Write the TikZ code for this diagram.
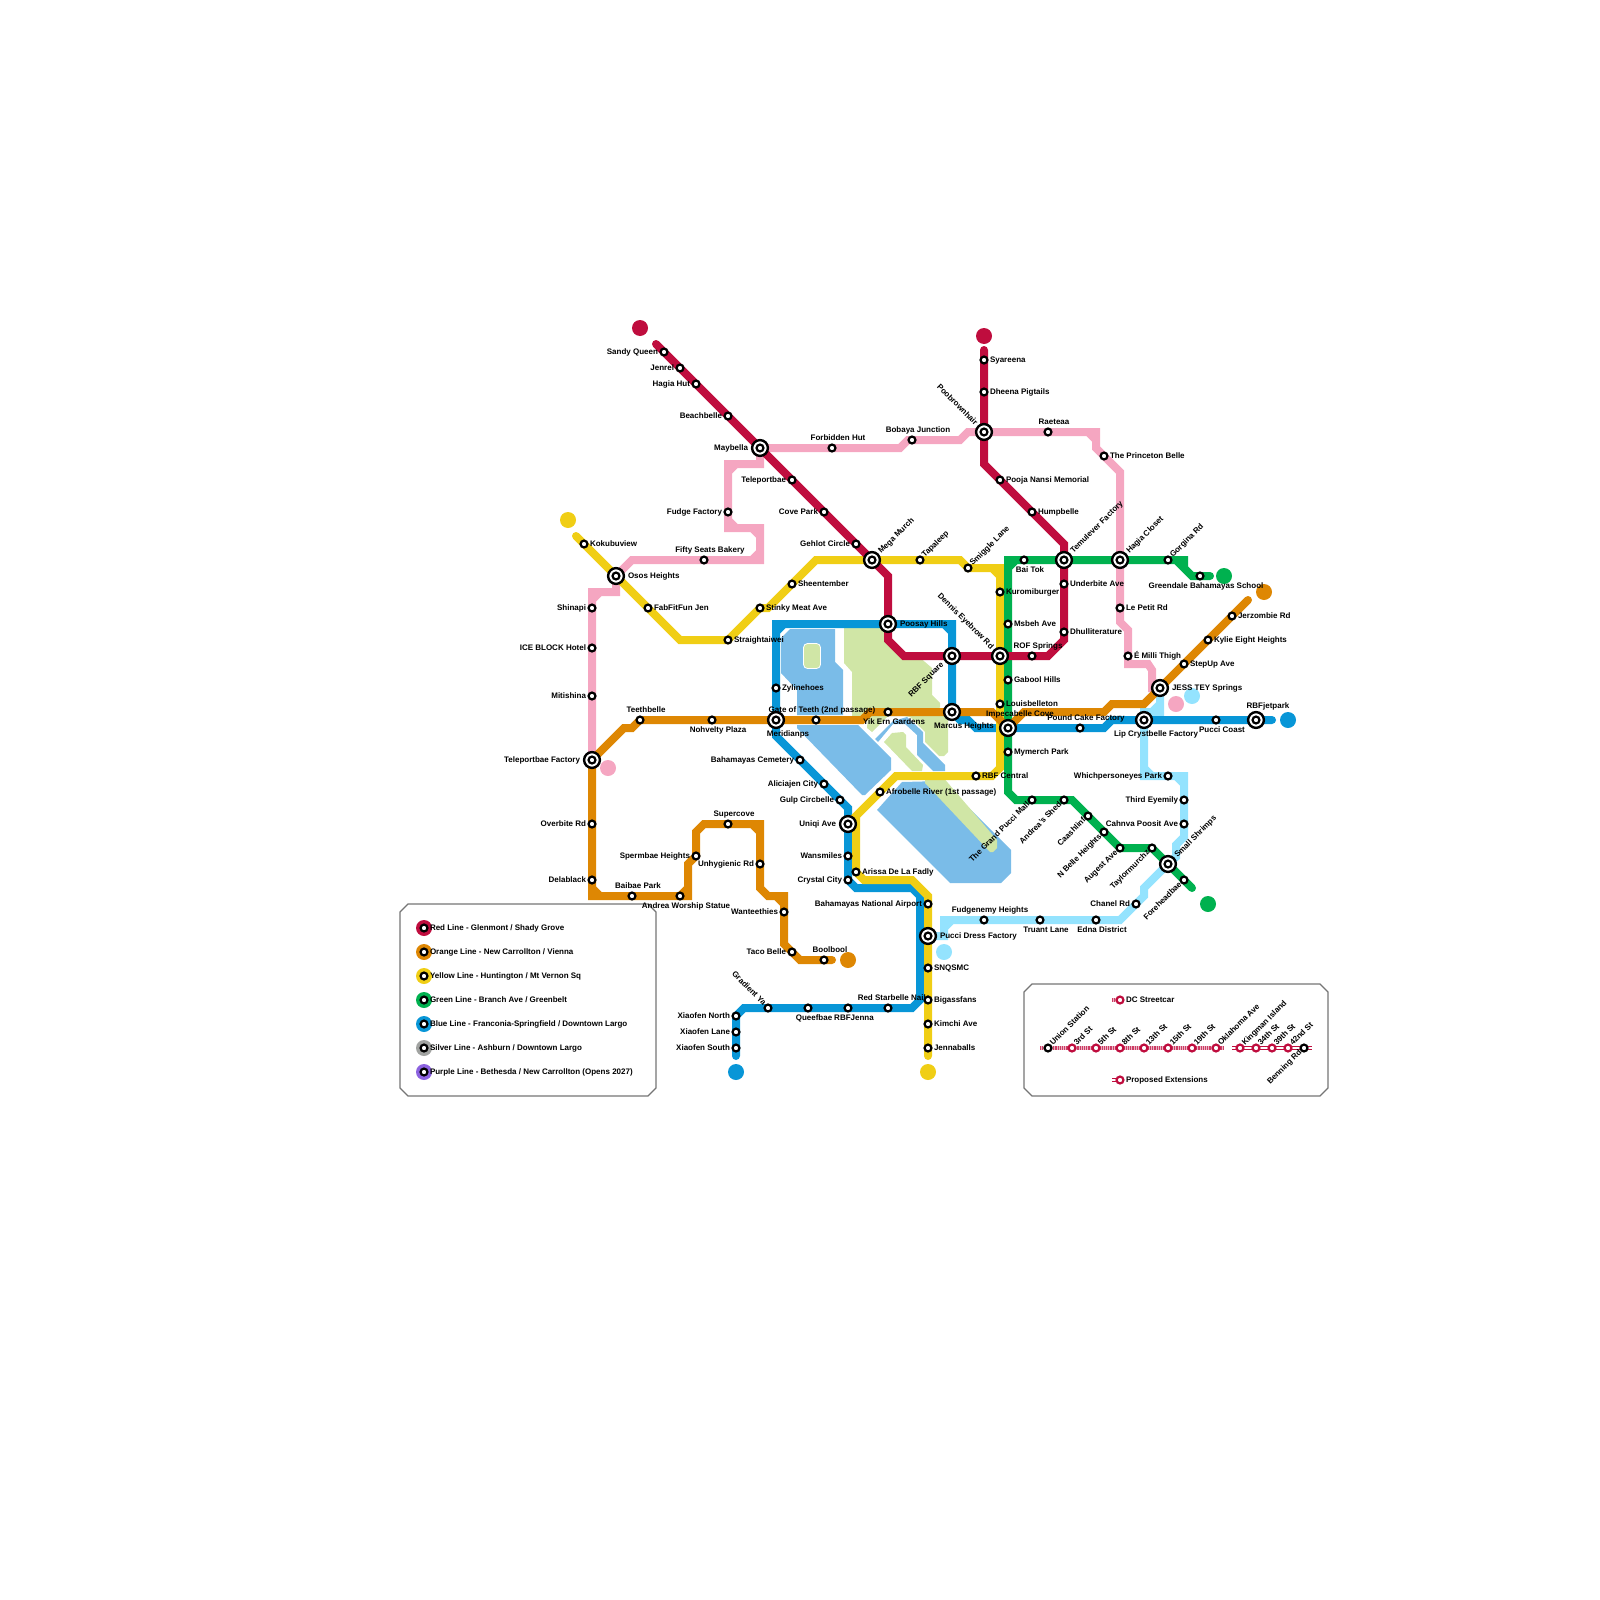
\documentclass[tikz,border=0pt]{standalone}
\usepackage{fontspec}
\setmainfont{Liberation Sans}
\pgfdeclarelayer{bg}\pgfdeclarelayer{lbl}
\pgfsetlayers{bg,lbl,main}
\definecolor{cred}{HTML}{BF0D3E}
\definecolor{corange}{HTML}{DE8703}
\definecolor{cyellow}{HTML}{F0CE15}
\definecolor{cgreen}{HTML}{00B14F}
\definecolor{cblue}{HTML}{0896D7}
\definecolor{csilver}{HTML}{A1A3A1}
\definecolor{cpurple}{HTML}{8C62E0}
\definecolor{cpink}{HTML}{F5A6C1}
\definecolor{clight}{HTML}{94E3FE}
\definecolor{cwater}{HTML}{7ABCE8}
\definecolor{cpark}{HTML}{D0E6A6}
\definecolor{cbox}{HTML}{757575}
\tikzset{
 line/.style={line width=8pt,line cap=round,line join=miter},
 stn/.style={circle,draw=black,fill=white,line width=2.2pt,minimum size=6.9pt,inner sep=0pt,outer sep=0pt},
 xstn/.style={circle,draw=black,fill=white,line width=2.4pt,minimum size=15.8pt,inner sep=0pt,outer sep=0pt},
 sc/.style={circle,draw=cred,fill=white,line width=2.2pt,minimum size=6.9pt,inner sep=0pt,outer sep=0pt},
 dot/.style={circle,inner sep=0pt,outer sep=0pt,minimum size=16pt},
 lbl/.style={font=\bfseries\fontsize{8}{9}\selectfont,inner sep=0pt,outer sep=0pt,text height=5.8pt,text depth=1.6pt,text=black},
 lR/.style={xshift=6pt,anchor=west},
 lL/.style={xshift=-6pt,anchor=east},
 lT/.style={xshift=6pt,yshift=9.85pt},
 lB/.style={xshift=6pt,yshift=-10.15pt},
 lU/.style={xshift=3.5pt,yshift=3.5pt,rotate=45,anchor=west},
 lV/.style={xshift=-3.5pt,yshift=-3.5pt,rotate=45,anchor=east},
 lD/.style={xshift=-3.5pt,yshift=3.5pt,rotate=-45,anchor=east},
 xR/.style={xshift=12pt,anchor=west},
 xL/.style={xshift=-12pt,anchor=east},
 xT/.style={xshift=12pt,yshift=14pt},
 xB/.style={xshift=12pt,yshift=-14pt},
 xU/.style={xshift=8pt,yshift=7.5pt,rotate=45,anchor=west},
 xV/.style={xshift=-9.5pt,yshift=-7.5pt,rotate=45,anchor=east},
 xD/.style={xshift=-8pt,yshift=8pt,rotate=-45,anchor=east},
 boxs/.style={draw=cbox,line width=1.3pt,fill=white},
 water/.style={fill=cwater,draw=none},
 park/.style={fill=cpark,draw=none},
}
\newcommand\st[5]{\node[stn] (#1) at (#2,#3) {};\begin{pgfonlayer}{lbl}\node[lbl,#4] (#1t) at (#2,#3) {#5};\end{pgfonlayer}}
\newcommand\xst[5]{\node[xstn] (#1) at (#2,#3) {};\node[stn] (#1i) at (#2,#3) {};\begin{pgfonlayer}{lbl}\node[lbl,#4] (#1t) at (#2,#3) {#5};\end{pgfonlayer}}
\newcommand\sct[5]{\node[sc] (#1) at (#2,#3) {};\begin{pgfonlayer}{lbl}\node[lbl,#4] (#1t) at (#2,#3) {#5};\end{pgfonlayer}}
\newcommand\leg[4]{\node[dot,fill=#2] (#1d) at (424,#3) {};\node[stn] (#1) at (424,#3) {};\node[lbl,lR] (#1t) at (424,#3) {#4};}
\begin{document}
\begin{tikzpicture}[x=1pt,y=-1pt]
\useasboundingbox (0,0) rectangle (1600,1600);
% red stations
\st{sandy}{664}{352}{lL}{Sandy Queen}
\st{jenrel}{680}{368}{lL}{Jenrel}
\st{hagiahut}{696}{384}{lL}{Hagia Hut}
\st{beach}{728}{416}{lL}{Beachbelle}
\xst{maybella}{760}{448}{xL}{Maybella}
\st{telep}{792}{480}{lL}{Teleportbae}
\st{cove}{824}{512}{lL}{Cove Park}
\st{gehlot}{856}{544}{lL}{Gehlot Circle}
\xst{mega}{872}{560}{xU}{Mega Murch}
\xst{poosay}{888}{624}{xR}{Poosay Hills}
\xst{rbfsq}{952}{656}{xV}{RBF Square}
\xst{dennis}{1000}{656}{xD}{Dennis Eyebrow Rd}
\st{rof}{1032}{656}{lT}{ROF Springs}
\st{dhull}{1064}{632}{lR}{Dhulliterature}
\st{under}{1064}{584}{lR}{Underbite Ave}
\xst{temu}{1064}{560}{xU}{Temulever Factory}
\st{hump}{1032}{512}{lR}{Humpbelle}
\st{pooja}{1000}{480}{lR}{Pooja Nansi Memorial}
\xst{poob}{984}{432}{xD}{Poobrownhair}
\st{dheena}{984}{392}{lR}{Dheena Pigtails}
\st{syar}{984}{360}{lR}{Syareena}
% orange
\st{jerz}{1232}{616}{lR}{Jerzombie Rd}
\st{kylie}{1208}{640}{lR}{Kylie Eight Heights}
\st{stepup}{1184}{664}{lR}{StepUp Ave}
\xst{jess}{1160}{688}{xR}{JESS TEY Springs}
\xst{impec}{1008}{728}{xT}{Impecabelle Cove}
\xst{marcus}{952}{712}{xB}{Marcus Heights}
\st{yik}{888}{712}{lB}{Yik Ern Gardens}
\st{gate}{816}{720}{lT}{Gate of Teeth (2nd passage)}
\xst{merid}{776}{720}{xB}{Meridianps}
\st{nohv}{712}{720}{lB}{Nohvelty Plaza}
\st{teeth}{640}{720}{lT}{Teethbelle}
\xst{telfac}{592}{760}{xL}{Teleportbae Factory}
\st{over}{592}{824}{lL}{Overbite Rd}
\st{dela}{592}{880}{lL}{Delablack}
\st{baib}{632}{896}{lT}{Baibae Park}
\st{andrea}{680}{896}{lB}{Andrea Worship Statue}
\st{sperm}{696}{856}{lL}{Spermbae Heights}
\st{super}{728}{824}{lT}{Supercove}
\st{unhyg}{760}{864}{lL}{Unhygienic Rd}
\st{want}{784}{912}{lL}{Wanteethies}
\st{taco}{792}{952}{lL}{Taco Belle}
\st{bool}{824}{960}{lT}{Boolbool}
% yellow
\st{koku}{584}{544}{lR}{Kokubuview}
\xst{osos}{616}{576}{xR}{Osos Heights}
\st{fab}{648}{608}{lR}{FabFitFun Jen}
\st{strai}{728}{640}{lR}{Straightaiwei}
\st{stinky}{760}{608}{lR}{Stinky Meat Ave}
\st{sheen}{792}{584}{lR}{Sheentember}
\st{tapa}{920}{560}{lU}{Tapaleep}
\st{smig}{968}{568}{lU}{Smiggle Lane}
\st{kuro}{1000}{592}{lR}{Kuromiburger}
\st{louis}{1000}{704}{lR}{Louisbelleton}
\st{rbfc}{976}{776}{lR}{RBF Central}
\st{afro}{880}{792}{lR}{Afrobelle River (1st passage)}
\xst{uniqi}{848}{824}{xL}{Uniqi Ave}
\st{ariss}{856}{872}{lR}{Arissa De La Fadly}
\st{baha}{928}{904}{lL}{Bahamayas National Airport}
\xst{pucci}{928}{936}{xR}{Pucci Dress Factory}
\st{snq}{928}{968}{lR}{SNQSMC}
\st{biga}{928}{1000}{lR}{Bigassfans}
\st{kimchi}{928}{1024}{lR}{Kimchi Ave}
\st{jenna}{928}{1048}{lR}{Jennaballs}
% green
\st{bai}{1024}{560}{lB}{Bai Tok}
\xst{hagiac}{1120}{560}{xU}{Hagia Closet}
\st{gorg}{1168}{560}{lU}{Gorgina Rd}
\st{green}{1200}{576}{lB}{Greendale Bahamayas School}
\st{msbeh}{1008}{624}{lR}{Msbeh Ave}
\st{gabool}{1008}{680}{lR}{Gabool Hills}
\st{mymer}{1008}{752}{lR}{Mymerch Park}
\st{gmall}{1032}{800}{lV}{The Grand Pucci Mall}
\st{ashed}{1064}{800}{lV}{Andrea's Shed}
\st{caash}{1088}{816}{lV}{Caashlinf}
\st{nbelle}{1104}{832}{lV}{N Belle Heights}
\st{auge}{1120}{848}{lV}{Augest Ave}
\st{tayl}{1152}{848}{lV}{Taylormurchz}
\xst{shrimp}{1168}{864}{xU}{Small Shrimps}
\st{fore}{1184}{880}{lV}{Foreheadbae}
% blue
\st{jet0}{1216}{720}{lB}{Pucci Coast}
\xst{jet}{1256}{720}{xT}{RBFjetpark}
\xst{lip}{1144}{720}{xB}{Lip Crystbelle Factory}
\st{pound}{1080}{728}{lT}{Pound Cake Factory}
\st{zyl}{776}{688}{lR}{Zylinehoes}
\st{bcem}{800}{760}{lL}{Bahamayas Cemetery}
\st{alic}{824}{784}{lL}{Aliciajen City}
\st{gulp}{840}{800}{lL}{Gulp Circbelle}
\st{wans}{848}{856}{lL}{Wansmiles}
\st{crys}{848}{880}{lL}{Crystal City}
\st{rsb}{888}{1008}{lT}{Red Starbelle Nails}
\st{rbfj}{848}{1008}{lB}{RBFJenna}
\st{queef}{808}{1008}{lB}{Queefbae}
\st{grad}{768}{1008}{lD}{Gradient Ya}
\st{xn}{736}{1016}{lL}{Xiaofen North}
\st{xl}{736}{1032}{lL}{Xiaofen Lane}
\st{xs}{736}{1048}{lL}{Xiaofen South}
% pink
\st{mitis}{592}{696}{lL}{Mitishina}
\st{ice}{592}{648}{lL}{ICE BLOCK Hotel}
\st{shin}{592}{608}{lL}{Shinapi}
\st{fifty}{704}{560}{lT}{Fifty Seats Bakery}
\st{fudge}{728}{512}{lL}{Fudge Factory}
\st{forb}{832}{448}{lT}{Forbidden Hut}
\st{boba}{912}{440}{lT}{Bobaya Junction}
\st{raet}{1048}{432}{lT}{Raeteaa}
\st{princ}{1104}{456}{lR}{The Princeton Belle}
\st{petit}{1120}{608}{lR}{Le Petit Rd}
\st{milli}{1128}{656}{lR}{É Milli Thigh}
% light blue
\st{which}{1168}{776}{lL}{Whichpersoneyes Park}
\st{third}{1184}{800}{lL}{Third Eyemily}
\st{cahn}{1184}{824}{lL}{Cahnva Poosit Ave}
\st{chan}{1136}{904}{lL}{Chanel Rd}
\st{edna}{1096}{920}{lB}{Edna District}
\st{truant}{1040}{920}{lB}{Truant Lane}
\st{fudg}{984}{920}{lT}{Fudgenemy Heights}
% end dots
\begin{pgfonlayer}{bg}
\draw[boxs] (408,904)--(648,904)--(656,912)--(656,1088)--(648,1096)--(408,1096)--(400,1088)--(400,912)--cycle;
\draw[boxs] (1032,984)--(1320,984)--(1328,992)--(1328,1088)--(1320,1096)--(1032,1096)--(1024,1088)--(1024,992)--cycle;
\node[dot,fill=cred] (dr1) at (640,328) {};
\node[dot,fill=cred] (dr2) at (984,336) {};
\node[dot,fill=corange] (do1) at (1264,592) {};
\node[dot,fill=corange] (do2) at (848,960) {};
\node[dot,fill=cyellow] (dy1) at (568,520) {};
\node[dot,fill=cyellow] (dy2) at (928,1072) {};
\node[dot,fill=cgreen] (dg1) at (1224,576) {};
\node[dot,fill=cgreen] (dg2) at (1208,904) {};
\node[dot,fill=cblue] (db1) at (1288,720) {};
\node[dot,fill=cblue] (db2) at (736,1072) {};
\node[dot,fill=cpink] (dp1) at (608,768) {};
\node[dot,fill=cpink] (dp2) at (1176,704) {};
\node[dot,fill=clight] (dl1) at (1192,696) {};
\node[dot,fill=clight] (dl2) at (944,952) {};
% water and parks
\fill[water] (790,629)--(835,629)--(835,662)--(843,670)--(843,715)--(797,715)--(797,690)--(781,673)--(781,638)--cycle;
\fill[park,draw=white,line width=.8pt,rounded corners=4pt] (803.5,643.5) rectangle (820.5,668.5);
\fill[water] (797,725)--(858,725)--(891,758)--(891,770)--(865,795)--(862,795)--(797,728)--cycle;
\fill[water] (877,810)--(902,782)--(942,781)--(1011,850)--(1011,873)--(1001,883)--(950,883)--cycle;
\fill[water] (875,739)--(893,721)--(907,717)--(923,732)--(923,743)--(945,765)--(945,771)--(933,771)--(917,755)--(917,735)--(905,724)--(893,724)--(878,742)--cycle;
\fill[park] (844,628)--(884,628)--(904,656)--(918,656)--(932,668)--(932,695)--(940,703)--(940,707)--(934,716)--(852,716)--(852,672)--(844,663)--cycle;
\fill[park] (867,728)--(872,732)--(888,716)--(868,716)--cycle;
\fill[park] (905,716)--(948,716)--(948,752)--(944,756)--(939,756)--(925,742)--(925,732)--(910,717)--cycle;
\fill[park] (884,742)--(892,733)--(903,732)--(906,735)--(906,747)--(923,765)--(922,771)--(912,771)--cycle;
\fill[park] (925,776)--(942,776)--(997,840)--(997,848)--(993,852)--(990,852)--(925,783)--cycle;
% lines
\draw[line,clight] (jess.center)--(1160,712)--(1144,712)--(lip.center)--(1144,776)--(which.center)--(1184,776)--(third.center)--(cahn.center)--(1184,837)--(1176,845)--(1176,857)--(shrimp.center)--(1144,888)--(1144,896)--(chan.center)--(1120,920)--(edna.center)--(truant.center)--(fudg.center)--(944,920)--(944,936)--(pucci.center) (1152,712)--(1160,704) (1176,776)--(1184,784) (1144,768)--(1152,776) (944,928)--(952,920);
\draw[line,cpink] (telfac.center)--(mitis.center)--(ice.center)--(shin.center)--(592,592)--(616,592)--(osos.center)--(632,560)--(fifty.center)--(760,560)--(760,528)--(728,528)--(fudge.center)--(728,464)--(760,464)--(maybella.center)--(forb.center)--(900,448)--(908,440)--(boba.center)--(960,440)--(968,432)--(poob.center)--(raet.center)--(1096,432)--(1096,448)--(princ.center)--(1120,472)--(hagiac.center)--(petit.center)--(1120,622)--(1128,630)--(milli.center)--(1128,664)--(1148,664)--(1152,670)--(1152,688)--(jess.center) (592,600)--(600,592) (752,560)--(760,552) (752,528)--(760,536) (728,520)--(736,528) (728,472)--(736,464) (1088,432)--(1096,440);
\draw[line,cblue] (1272,720)--(jet.center)--(jet0.center)--(lip.center)--(1112,720)--(1104,728)--(pound.center)--(impec.center)--(976,728)--(968,720)--(960,720)--(marcus.center)--(rbfsq.center)--(952,624)--(poosay.center)--(776,624)--(zyl.center)--(merid.center)--(776,736)--(bcem.center)--(alic.center)--(gulp.center)--(848,808)--(uniqi.center)--(wans.center)--(crys.center)--(856,888)--(912,888)--(920,896)--(920,1000)--(912,1008)--(rsb.center)--(rbfj.center)--(queef.center)--(grad.center)--(744,1008)--(xn.center)--(xl.center)--(xs.center)--(736,1056) (776,632)--(784,624) (944,624)--(952,632);
\draw[line,cyellow] (576,536)--(koku.center)--(osos.center)--(fab.center)--(680,640)--(strai.center)--(stinky.center)--(768,608)--(sheen.center)--(816,560)--(mega.center)--(tapa.center)--(960,560)--(smig.center)--(1000,568)--(kuro.center)--(dennis.center)--(louis.center)--(1000,768)--(992,776)--(rbfc.center)--(896,776)--(afro.center)--(uniqi.center) (uniqi.center)--(856,816)--(ariss.center)--(856,872)--(864,880)--(912,880)--(928,896)--(baha.center)--(pucci.center)--(snq.center)--(biga.center)--(kimchi.center)--(jenna.center)--(928,1056) (992,568)--(1000,576);
\draw[line,cgreen] (impec.center)--(gabool.center)--(msbeh.center)--(1008,560)--(bai.center)--(temu.center)--(hagiac.center)--(gorg.center)--(1184,560)--(1184,568)--(1192,576)--(green.center)--(1210,576) (1176,560)--(1184,568) (1008,568)--(1016,560);
\draw[line,cgreen] (impec.center)--(mymer.center)--(1008,792)--(1016,800)--(gmall.center)--(ashed.center)--(1072,800)--(caash.center)--(nbelle.center)--(auge.center)--(tayl.center)--(shrimp.center)--(fore.center)--(1192,888);
\draw[line,corange] (1248,600)--(jerz.center)--(kylie.center)--(stepup.center)--(jess.center)--(1144,704)--(1112,704)--(1104,712)--(1024,712)--(impec.center)--(992,712)--(marcus.center)--(yik.center)--(870,712)--(862,720)--(gate.center)--(merid.center)--(nohv.center)--(teeth.center)--(632,728)--(624,728)--(telfac.center)--(over.center)--(dela.center)--(592,896)--(baib.center)--(andrea.center)--(688,896)--(688,864)--(sperm.center)--(696,832)--(704,824)--(super.center)--(760,824)--(unhyg.center)--(760,888)--(768,896)--(784,896)--(want.center)--(784,944)--(800,960)--(bool.center)--(832,960) (592,888)--(600,896) (680,896)--(688,888) (752,824)--(760,832) (776,896)--(784,904);
\draw[line,cred] (656,344)--(sandy.center)--(jenrel.center)--(hagiahut.center)--(beach.center)--(maybella.center)--(telep.center)--(cove.center)--(gehlot.center)--(mega.center)--(888,576)--(poosay.center)--(888,640)--(904,656)--(rbfsq.center)--(dennis.center)--(rof.center)--(1048,656)--(1064,640)--(dhull.center)--(under.center)--(temu.center)--(1064,544)--(hump.center)--(pooja.center)--(984,464)--(poob.center)--(dheena.center)--(syar.center)--(984,350);
\end{pgfonlayer}
% legend 1
\leg{lgr}{cred}{928}{Red Line - Glenmont / Shady Grove}
\leg{lgo}{corange}{952}{Orange Line - New Carrollton / Vienna}
\leg{lgy}{cyellow}{976}{Yellow Line - Huntington / Mt Vernon Sq}
\leg{lgg}{cgreen}{1000}{Green Line - Branch Ave / Greenbelt}
\leg{lgb}{cblue}{1024}{Blue Line - Franconia-Springfield / Downtown Largo}
\leg{lgs}{csilver}{1048}{Silver Line - Ashburn / Downtown Largo}
\leg{lgp}{cpurple}{1072}{Purple Line - Bethesda / New Carrollton (Opens 2027)}
% legend 2
\coordinate (sca) at (1040,1048);
\coordinate (scb) at (1224,1048);
\coordinate (pra) at (1232,1048);
\coordinate (prb) at (1312,1048);
\coordinate (lsc) at (1112,1000);
\coordinate (lpr) at (1112,1080);
\st{union}{1048}{1048}{lU}{Union Station}
\sct{s3}{1072}{1048}{lU}{3rd St}
\sct{s5}{1096}{1048}{lU}{5th St}
\sct{s8}{1120}{1048}{lU}{8th St}
\sct{s13}{1144}{1048}{lU}{13th St}
\sct{s15}{1168}{1048}{lU}{15th St}
\sct{s19}{1192}{1048}{lU}{19th St}
\sct{sok}{1216}{1048}{lU}{Oklahoma Ave}
\sct{skin}{1240}{1048}{lU}{Kingman Island}
\sct{s34}{1256}{1048}{lU}{34th St}
\sct{s39}{1272}{1048}{lU}{39th St}
\sct{s42}{1288}{1048}{lU}{42nd St}
\st{benn}{1304}{1048}{lV}{Benning Rd}
\sct{ldc}{1120}{1000}{lR}{DC Streetcar}
\sct{lpe}{1120}{1080}{lR}{Proposed Extensions}
\begin{pgfonlayer}{bg}
\draw[cred!30,line width=4pt] (sca)--(union.center)--(s3.center)--(s5.center)--(s8.center)--(s13.center)--(s15.center)--(s19.center)--(sok.center)--(scb);
\draw[cred!80,line width=4pt,dash pattern=on 1.1pt off 1.1pt] (sca)--(union.center)--(s3.center)--(s5.center)--(s8.center)--(s13.center)--(s15.center)--(s19.center)--(sok.center)--(scb);
\draw[cred!30,line width=4pt] (lsc)--(ldc.center);
\draw[cred!80,line width=4pt,dash pattern=on 1.1pt off 1.1pt] (lsc)--(ldc.center);
\draw[cred,line width=1.1pt,double=white,double distance=2.6pt] (pra)--(skin.center)--(s34.center)--(s39.center)--(s42.center)--(benn.center)--(prb);
\draw[cred,line width=1.1pt,double=white,double distance=2.6pt] (lpr)--(lpe.center);
\end{pgfonlayer}
\end{tikzpicture}
\end{document}
